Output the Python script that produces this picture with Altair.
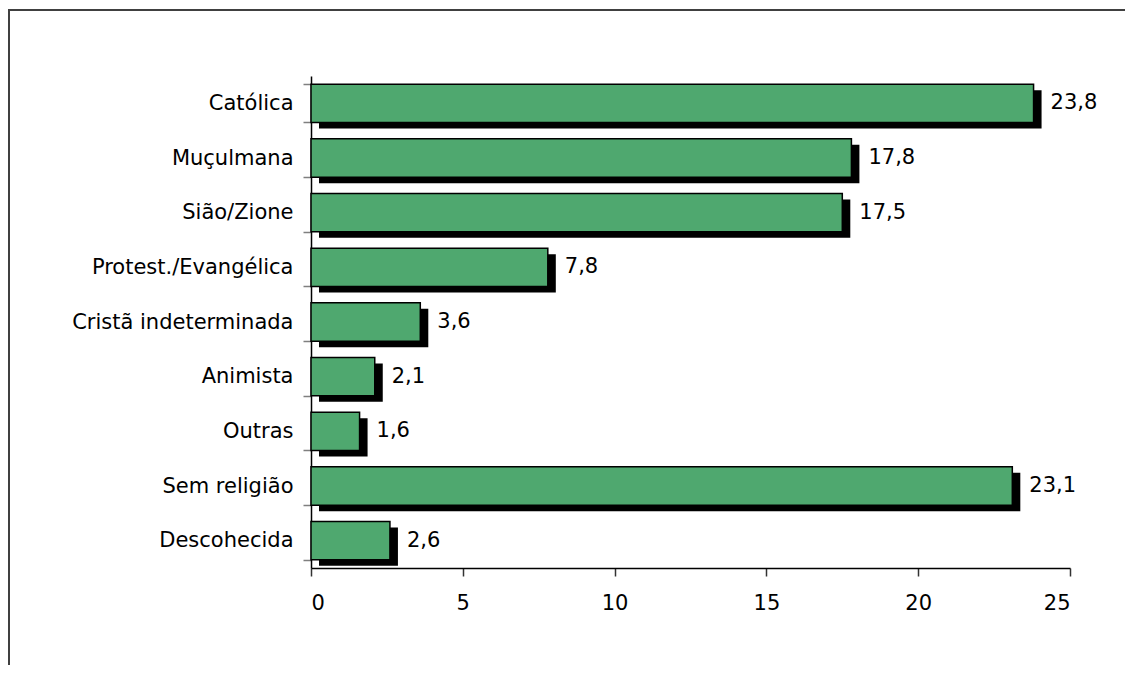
import altair as alt
import pandas as pd

categories = ["Católica", "Muçulmana", "Sião/Zione", "Protest./Evangélica",
              "Cristã indeterminada", "Animista", "Outras", "Sem religião", "Descohecida"]
values = [23.8, 17.8, 17.5, 7.8, 3.6, 2.1, 1.6, 23.1, 2.6]
labels = [f"{v:.1f}".replace(".", ",") for v in values]
x_ticks = [0, 5, 10, 15, 20, 25]

df = pd.DataFrame({"cat": categories, "val": values, "lab": labels})

FONT = "DejaVu Sans"
FS = 21

yenc = alt.Y("cat:N", sort=categories,
             scale=alt.Scale(paddingInner=0.3, paddingOuter=0.15),
             axis=alt.Axis(title=None, labelFontSize=FS, labelFont=FONT, labelColor="black",
                           labelLimit=400,
                           tickBand="extent", tickSize=8, tickColor="#7f7f7f", tickWidth=1.5,
                           domainColor="black", domainWidth=1.5, labelPadding=10))
xenc = alt.X("val:Q", scale=alt.Scale(domain=[0, 25], nice=False, zero=True),
             axis=alt.Axis(title=None, values=x_ticks, grid=False, labelFontSize=FS,
                           labelFont=FONT, labelColor="black", tickSize=8, tickColor="#333333",
                           tickWidth=1.5, domainColor="black", domainWidth=1.5, labelPadding=16))

base = alt.Chart(df)

shadow = base.mark_bar(color="black", xOffset=8, x2Offset=4, yOffset=6).encode(x=xenc, y=yenc)
bars = base.mark_bar(color="#4FA86F", stroke="black", strokeWidth=1.5).encode(x=xenc, y=yenc)
texts = base.mark_text(align="left", baseline="middle", dx=17, fontSize=FS, font=FONT,
                       color="black").encode(x=xenc, y=yenc, text="lab:N")

frame_top = alt.Chart(pd.DataFrame({"a": [0]})).mark_rule(color="#404040", strokeWidth=2).encode(
    x=alt.value(-320), x2=alt.value(830), y=alt.value(-66))
frame_left = alt.Chart(pd.DataFrame({"a": [0]})).mark_rule(color="#404040", strokeWidth=2).encode(
    x=alt.value(-302), y=alt.value(-66), y2=alt.value(700))

chart = alt.layer(frame_top, frame_left, shadow, bars, texts).properties(
    width=759, height=492,
    padding={"left": 303, "top": 68, "right": 55, "bottom": 97},
    autosize=alt.AutoSizeParams(type="none"),
    background="white",
).configure_view(stroke=None)

chart.save("out.html", embed_options={"renderer": "svg", "actions": False})
